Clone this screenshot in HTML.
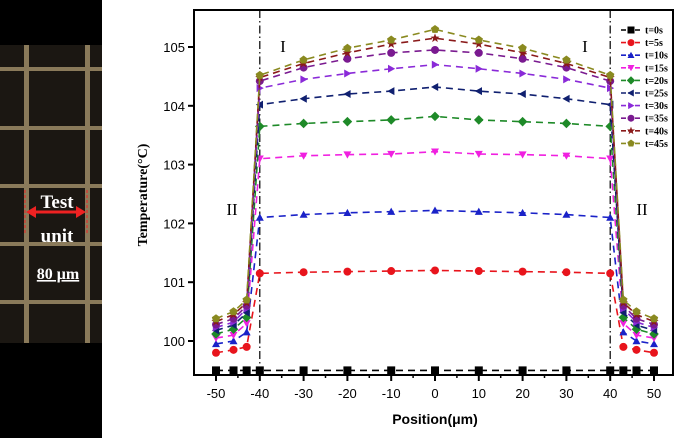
<!DOCTYPE html>
<html><head><meta charset="utf-8"><style>
body{margin:0;background:#fff;width:685px;height:438px;overflow:hidden;font-family:"Liberation Sans",sans-serif}
</style></head><body>
<svg id="c" width="685" height="438" xmlns="http://www.w3.org/2000/svg">
<rect x="0" y="0" width="102" height="438" fill="#000"/>
<g>
<rect x="0" y="45" width="102" height="298" fill="#1b1712"/>
<g fill="#8a7a5a">
<rect x="24" y="45" width="5" height="298"/><rect x="85" y="45" width="5" height="298"/>
<rect x="0" y="67" width="102" height="4"/><rect x="0" y="126" width="102" height="4"/><rect x="0" y="184" width="102" height="4"/><rect x="0" y="242" width="102" height="4"/><rect x="0" y="300" width="102" height="4"/>
</g>
<line x1="25" y1="190" x2="25" y2="234" stroke="#e22" stroke-dasharray="3,2"/>
<line x1="87" y1="190" x2="87" y2="234" stroke="#e22" stroke-dasharray="3,2"/>
<line x1="30" y1="212" x2="82" y2="212" stroke="#e22" stroke-width="3"/>
<polygon points="26,212 36,206 36,218" fill="#e22"/><polygon points="86,212 76,206 76,218" fill="#e22"/>
<text x="57" y="208" fill="#fff" font-family="Liberation Serif" font-weight="bold" font-size="19" text-anchor="middle">Test</text>
<text x="57" y="242" fill="#fff" font-family="Liberation Serif" font-weight="bold" font-size="19" text-anchor="middle">unit</text>
<text x="58" y="279" fill="#fff" font-family="Liberation Serif" font-weight="bold" font-size="16" text-anchor="middle" text-decoration="underline">80 μm</text>
</g>
</svg>
<script>
const positions=[-50,-46,-43,-40,-30,-20,-10,0,10,20,30,40,43,46,50];
const seriesNames=["t=0s","t=5s","t=10s","t=15s","t=20s","t=25s","t=30s","t=35s","t=40s","t=45s"];
const t0=[99.5,99.5,99.5,99.5,99.5,99.5,99.5,99.5,99.5,99.5,99.5,99.5,99.5,99.5,99.5];
const t5=[99.8,99.85,99.9,101.15,101.17,101.18,101.19,101.2,101.19,101.18,101.17,101.15,99.9,99.85,99.8];
const t10=[99.95,100.0,100.15,102.1,102.15,102.18,102.2,102.22,102.2,102.18,102.15,102.1,100.15,100.0,99.95];
const t15=[100.05,100.1,100.3,103.1,103.15,103.17,103.18,103.22,103.18,103.17,103.15,103.1,100.3,100.1,100.05];
const t20=[100.12,100.2,100.4,103.65,103.7,103.73,103.76,103.82,103.76,103.73,103.7,103.65,100.4,100.2,100.12];
const t25=[100.18,100.27,100.48,104.02,104.12,104.2,104.25,104.32,104.25,104.2,104.12,104.02,100.48,100.27,100.18];
const t30=[100.23,100.32,100.55,104.3,104.45,104.55,104.63,104.7,104.63,104.55,104.45,104.3,100.55,100.32,100.23];
const t35=[100.28,100.38,100.6,104.42,104.65,104.8,104.9,104.95,104.9,104.8,104.65,104.42,100.6,100.38,100.28];
const t40=[100.33,100.45,100.65,104.48,104.72,104.9,105.05,105.15,105.05,104.9,104.72,104.48,100.65,100.45,100.33];
const t45=[100.38,100.5,100.7,104.52,104.78,104.98,105.12,105.3,105.12,104.98,104.78,104.52,100.7,100.5,100.38];
const xTicks=[-50,-40,-30,-20,-10,0,10,20,30,40,50];
const yTicks=[100,101,102,103,104,105];

const allSeries=[t0,t5,t10,t15,t20,t25,t30,t35,t40,t45];
const colors=["#000","#e8141c","#1a22c8","#f020e0","#1e8a28","#102070","#8a2ad8","#7a1a90","#8a1a1a","#8a8a20"];
const shapes=["sq","circ","up","down","diam","left","right","circ","star","pent"];
const X=v=>435+v*4.38;
const Y=v=>341-(v-100)*58.8;
const NS="http://www.w3.org/2000/svg";
const svg=document.getElementById('c');
function mk(tag,attrs,parent){const e=document.createElementNS(NS,tag);for(const k in attrs)e.setAttribute(k,attrs[k]);(parent||svg).appendChild(e);return e;}
const L=194,R=673,T=10,B=375;
const frame=mk('rect',{x:L,y:T,width:R-L,height:B-T,fill:'none',stroke:'#000','stroke-width':2});


xTicks.forEach(v=>{
 mk('line',{x1:X(v),y1:B,x2:X(v),y2:B+6,stroke:'#000','stroke-width':2});
 const t=mk('text',{x:X(v),y:398,'font-size':13,'text-anchor':'middle'});t.textContent=v;
 
 
});
xTicks.slice(0,-1).forEach(v=>mk('line',{x1:X(v+5),y1:B,x2:X(v+5),y2:B+3,stroke:'#000','stroke-width':1.5}));
yTicks.forEach(v=>{
 mk('line',{x1:L-6,y1:Y(v),x2:L,y2:Y(v),stroke:'#000','stroke-width':2});
 const t=mk('text',{x:L-9,y:Y(v)+5,'font-size':13,'text-anchor':'end'});t.textContent=v;
 
 
});
[-40,40].forEach(v=>{const l=mk('line',{x1:X(v),y1:T,x2:X(v),y2:B,stroke:'#000','stroke-width':1.2,'stroke-dasharray':'8,3,1.5,3'});
 
 });
[[283,52,'I'],[585,52,'I'],[232,215,'II'],[642,215,'II']].forEach(a=>{const t=mk('text',{x:a[0],y:a[1],'font-size':17,'font-family':'Liberation Serif','text-anchor':'middle'});t.textContent=a[2];
 
 });
const yt=mk('text',{x:0,y:0,'font-size':14,'font-weight':'bold','font-family':'Liberation Serif','text-anchor':'middle',transform:'translate(147,195) rotate(-90)'});yt.textContent='Temperature(°C)';


const xt=mk('text',{x:435,y:424,'font-size':14,'font-weight':'bold','text-anchor':'middle'});xt.textContent='Position(μm)';


function marker(g,s,x,y,c,r){
 let p;
 if(s==='sq')p=mk('rect',{x:x-r,y:y-r,width:2*r,height:2*r},g);
 else if(s==='circ')p=mk('circle',{cx:x,cy:y,r:r},g);
 else{let pts;
  if(s==='up')pts=[[0,-r],[r,r*.8],[-r,r*.8]];
  else if(s==='down')pts=[[0,r],[r,-r*.8],[-r,-r*.8]];
  else if(s==='left')pts=[[-r,0],[r*.8,-r],[r*.8,r]];
  else if(s==='right')pts=[[r,0],[-r*.8,-r],[-r*.8,r]];
  else if(s==='diam')pts=[[0,-r*1.2],[r*1.2,0],[0,r*1.2],[-r*1.2,0]];
  else if(s==='pent'){pts=[];for(let i=0;i<5;i++){const a=-Math.PI/2+i*2*Math.PI/5;pts.push([r*1.1*Math.cos(a),r*1.1*Math.sin(a)]);}}
  else {pts=[];for(let i=0;i<10;i++){const a=-Math.PI/2+i*Math.PI/5,rr=i%2?r*.5:r*1.2;pts.push([rr*Math.cos(a),rr*Math.sin(a)]);}}
  p=mk('polygon',{points:pts.map(q=>(x+q[0])+','+(y+q[1])).join(' ')},g);}
 p.setAttribute('fill',c);
 return p;
}
allSeries.forEach((data,si)=>{
 const g=mk('g',{});
 
 
 mk('polyline',{points:data.map((v,i)=>X(positions[i])+','+Y(v)).join(' '),fill:'none',stroke:colors[si],'stroke-width':1.6,'stroke-dasharray':'7,5'},g);
 data.forEach((v,i)=>{const m=marker(g,shapes[si],X(positions[i]),Y(v),colors[si],4);
  
  });
 const ly=30+si*12.6;
 const lg=mk('g',{},svg);
 
 
 mk('line',{x1:621,y1:ly,x2:641,y2:ly,stroke:colors[si],'stroke-width':1.6,'stroke-dasharray':'5,2'},lg);
 marker(lg,shapes[si],631,ly,colors[si],3.5);
 const t=mk('text',{x:645,y:ly+3.5,'font-size':10,'font-family':'Liberation Serif','font-weight':'bold'},lg);t.textContent=seriesNames[si];
});
</script>
</body></html>
